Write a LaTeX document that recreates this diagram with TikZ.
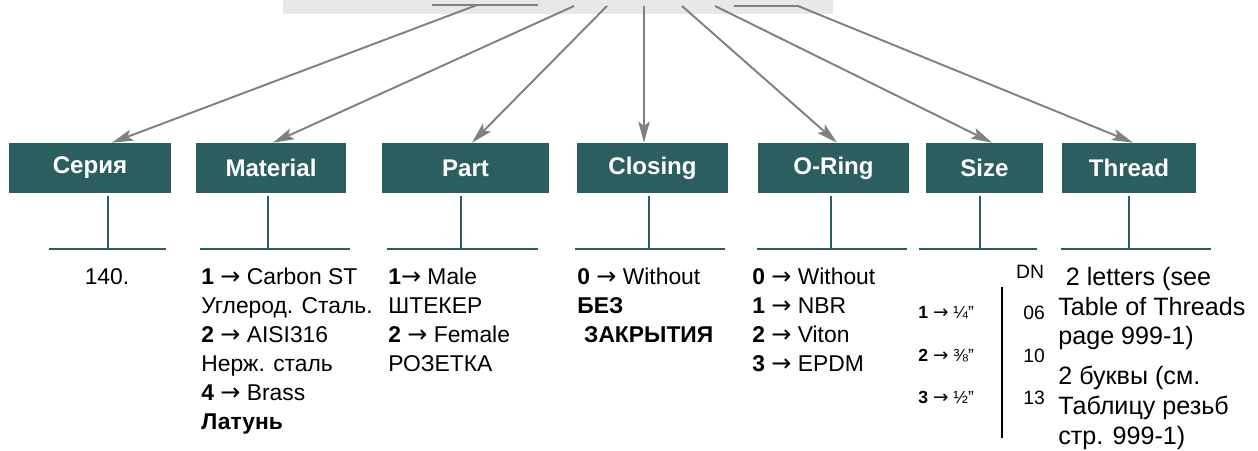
\documentclass[tikz,border=0pt]{standalone}
\usepackage{fontspec}
\setmainfont{Liberation Sans}
\newfontfamily\arrowfont{DejaVu Sans}
\newcommand\ar{{\arrowfont\addfontfeature{Scale=1.05}→}}
\usetikzlibrary{arrows.meta,calc}
\definecolor{boxgreen}{RGB}{44,94,96}
\definecolor{arrowgray}{RGB}{128,128,128}
\definecolor{bargray}{RGB}{232,232,232}

\begin{document}
\begin{tikzpicture}[x=0.02cm,y=-0.02cm,
  catbox/.style={fill=boxgreen,text=white,font=\fontsize{13.7}{15}\selectfont\bfseries,
    minimum height=1cm,inner sep=0pt},
  feed/.style={draw=arrowgray,line width=1.1pt,-{Stealth[length=12pt,width=6.5pt,inset=2.5pt]}},
  feedline/.style={draw=arrowgray,line width=1.1pt},
  stem/.style={draw=boxgreen,line width=1.1pt},
  coltext/.style={font=\fontsize{13}{16.5}\selectfont,align=left,anchor=base west,inner sep=0pt},
  sizetext/.style={font=\fontsize{10}{12}\selectfont,anchor=base west,inner sep=0pt},
  dntext/.style={font=\fontsize{11}{13}\selectfont,anchor=base west,inner sep=0pt}]

\useasboundingbox (0,0) rectangle (1258,450);

% code bar at the top
\node[fill=bargray,minimum width=11cm,minimum height=0.28cm,inner sep=0pt] (code) at (558,7) {};

% categories
\node[catbox,minimum width=3.24cm] (serie) at (90,168) {Серия};
\node[catbox,minimum width=3cm] (material) at (271,168) {Material};
\node[catbox,minimum width=3.34cm] (part) at (465.5,168) {Part};
\node[catbox,minimum width=3.02cm] (closing) at (652.5,168) {Closing};
\node[catbox,minimum width=3.02cm] (oring) at (833.5,168) {O-Ring};
\node[catbox,minimum width=2.34cm] (size) at (984.5,168) {Size};
\node[catbox,minimum width=2.68cm] (thread) at (1129,168) {Thread};

% arrows from the code
\coordinate (k1a) at (432,5);
\coordinate (k1b) at (538,5);
\coordinate (k1) at (477,5);
\coordinate (k2) at (574,6);
\coordinate (k3) at (607,6);
\coordinate (k4) at (644,6);
\coordinate (k5) at (682,6);
\coordinate (k6) at (715,6);
\coordinate (k7a) at (734,6);
\coordinate (k7) at (798,6);

\draw[feedline] (k1a) -- (k1b);
\draw[feedline] (k7a) -- (k7);
\draw[feed] (k1) -- ($(serie.north)+(22,0)$);
\draw[feed] (k2) -- ($(material.north)+(2,0)$);
\draw[feed] (k3) -- ($(part.north)+(6.5,0)$);
\draw[feed] (k4) -- ($(closing.north)+(-8.5,0)$);
\draw[feed] (k5) -- ($(oring.north)+(3.5,0)$);
\draw[feed] (k6) -- ($(size.north)+(7.5,0)$);
\draw[feed] (k7) -- ($(thread.north)+(4,0)$);

% stems under the boxes
\foreach \n/\s/\l/\r in {serie/108/49/166,material/268/200/350,part/461/387/538,
    closing/649/575/725,oring/831/757/907,size/980/919/1037,thread/1129/1061/1211}{
  \coordinate (\n-foot) at (\s,249);
  \coordinate (\n-l) at (\l,249);
  \coordinate (\n-r) at (\r,249);
  \draw[stem,shorten <=1.7pt] (\n.south -| \n-foot) -- (\n-foot);
  \draw[stem] (\n-l) -- (\n-r);
}

% values (anchored at the baseline of the last line)
\node[coltext,anchor=base] (t-serie) at (107,284) {140.};
\node[coltext] (t-material) at (201,429) {\textbf{1} \ar{} Carbon ST\\Углерод. Сталь.\\\textbf{2} \ar{} AISI316\\Нерж. сталь\\\textbf{4} \ar{} Brass\\\textbf{Латунь}};
\node[coltext] (t-part) at (388,371) {\textbf{1}\ar{} Male\\ШТЕКЕР\\\textbf{2} \ar{} Female\\РОЗЕТКА};
\node[coltext] (t-closing) at (577,342) {\textbf{0} \ar{} Without\\\textbf{БЕЗ}\\\hspace{0.3em}\textbf{ЗАКРЫТИЯ}};
\node[coltext] (t-oring) at (752,371) {\textbf{0} \ar{} Without\\\textbf{1} \ar{} NBR\\\textbf{2} \ar{} Viton\\\textbf{3} \ar{} EPDM};

\node[coltext,font=\fontsize{11}{13}\selectfont,anchor=base] (dn) at (1030,278) {DN};
\coordinate (dn-top) at (1002,287);
\coordinate (dn-foot) at (1002,438);
\draw[line width=1.1pt] (dn-top) -- (dn-foot);
\node[sizetext] (s1) at (918,318) {\textbf{1} \ar{} ¼”};
\node[sizetext] (s2) at (918,361) {\textbf{2} \ar{} ⅜”};
\node[sizetext] (s3) at (918,403) {\textbf{3} \ar{} ½”};
\node[dntext] (n1) at (1023,319) {06};
\node[dntext] (n2) at (1023,362) {10};
\node[dntext] (n3) at (1023,404) {13};

\node[coltext,font=\fontsize{14.3}{16.8}\selectfont] (t-thread) at (1058,444) {\hspace{0.3em}2 letters (see\\Table of Threads\\page 999-1)\\[6pt]2 буквы (см.\\Таблицу резьб\\стр. 999-1)};
\end{tikzpicture}
\end{document}
